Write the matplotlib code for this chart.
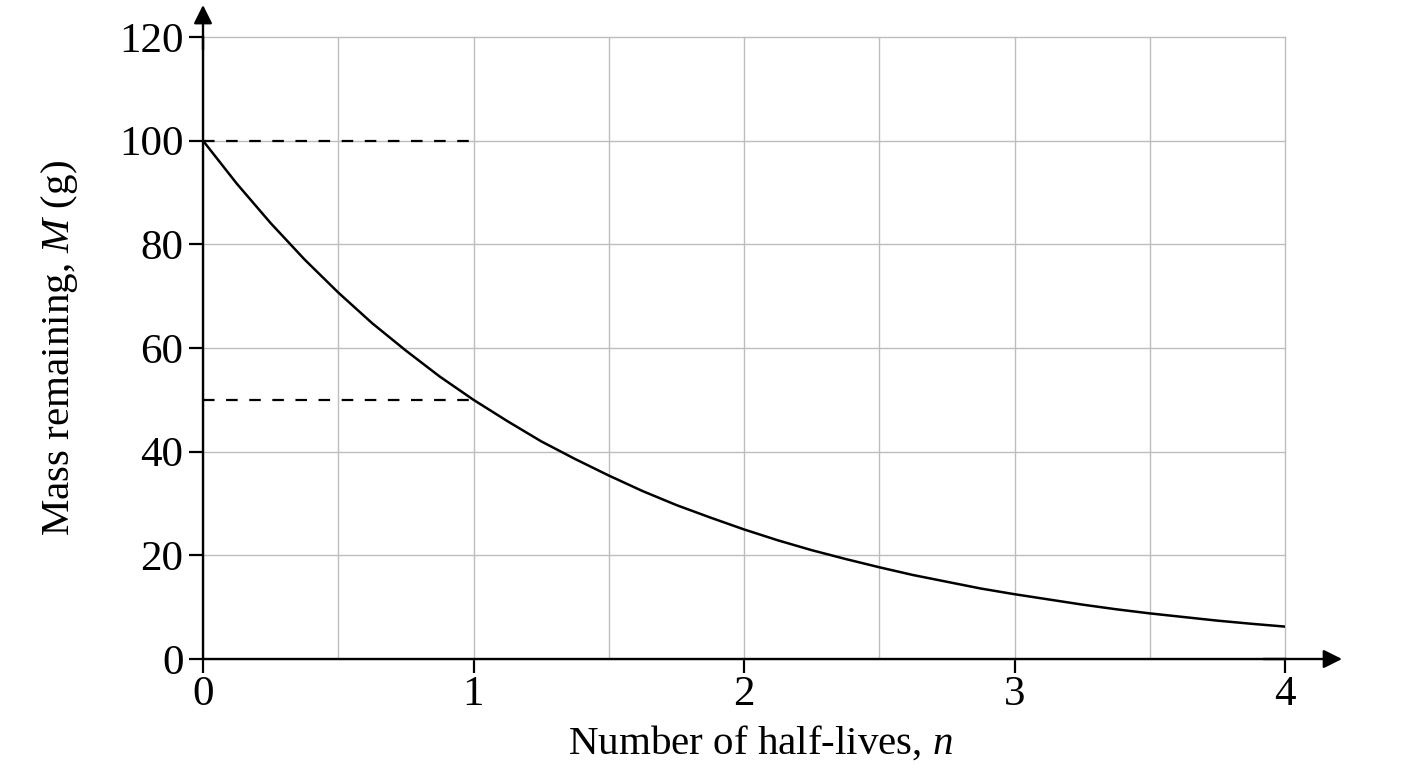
import matplotlib
matplotlib.use("Agg")
import matplotlib.pyplot as plt

# valeurs (pas de 0.125 demi-vie)
n_vals = [0, 0.125, 0.25, 0.375, 0.5, 0.625, 0.75, 0.875, 1.0,
          1.125, 1.25, 1.375, 1.5, 1.625, 1.75, 1.875, 2.0,
          2.125, 2.25, 2.375, 2.5, 2.625, 2.75, 2.875, 3.0,
          3.125, 3.25, 3.375, 3.5, 3.625, 3.75, 3.875, 4.0]
mass = [100, 91.7, 84.1, 77.1, 70.7, 64.8, 59.5, 54.5, 50,
        45.9, 42.0, 38.6, 35.4, 32.4, 29.7, 27.3, 25,
        22.9, 21.0, 19.3, 17.7, 16.2, 14.9, 13.6, 12.5,
        11.5, 10.5, 9.6, 8.8, 8.1, 7.4, 6.8, 6.25]
guide_y = [100, 50]
guide_x_end = 1
x_ticks = [0, 1, 2, 3, 4]
y_ticks = [0, 20, 40, 60, 80, 100, 120]

plt.rcParams.update({
    "font.family": ["Liberation Serif", "DejaVu Serif"],
    "mathtext.fontset": "custom",
    "mathtext.rm": "Liberation Serif",
    "mathtext.it": "Liberation Serif:italic",
    "font.size": 31,
})

fig = plt.figure(figsize=(14.08, 7.68), dpi=100)
ax = fig.add_axes([203 / 1408, 1 - 659 / 768, 1082 / 1408, 622 / 768])

ax.set_xlim(0, 4)
ax.set_ylim(0, 120)
ax.set_xticks(x_ticks)
ax.set_xticks([0.5, 1.5, 2.5, 3.5], minor=True)
ax.set_yticks(y_ticks)
ax.tick_params(which="major", direction="out", length=10, width=1.6, pad=4)
ax.tick_params(axis="x", which="major", pad=2)
ax.tick_params(which="minor", length=0)
ax.grid(True, which="both", color="#bdbdbd", lw=1.0)
ax.set_axisbelow(True)
for g in ax.get_xgridlines() + ax.get_ygridlines():
    g.set_clip_on(False)

for s in ["top", "right"]:
    ax.spines[s].set_visible(False)
for s in ["left", "bottom"]:
    ax.spines[s].set_linewidth(1.7)

for y in guide_y:
    ax.plot([0, guide_x_end], [y, y], color="black", lw=1.6, ls=(0, (5.2, 5.2)))

ax.plot(n_vals, mass, color="black", lw=1.8, zorder=3)

arrow = dict(arrowstyle="-|>", color="black", lw=1.7, mutation_scale=28,
             shrinkA=0, shrinkB=0)
ax.annotate("", xy=(0, 1.0514), xytext=(0, 0.98), xycoords="axes fraction",
            arrowprops=arrow, annotation_clip=False)
ax.annotate("", xy=(1.0527, 0), xytext=(0.98, 0), xycoords="axes fraction",
            arrowprops=arrow, annotation_clip=False)

ax.set_xlabel("Number of half-lives, $n$", fontsize=29.5, labelpad=7, x=0.5157)
ax.set_ylabel("Mass remaining, $M$ (g)", fontsize=29.5, labelpad=28)

fig.savefig("out.png", dpi=100)
